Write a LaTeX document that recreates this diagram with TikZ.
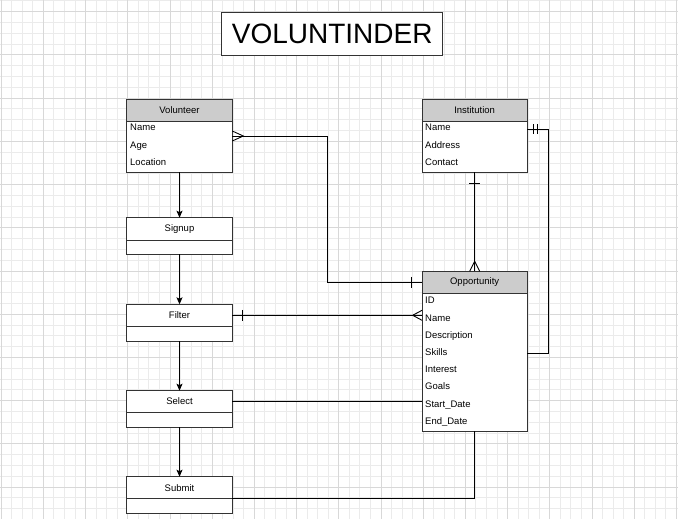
\documentclass[tikz,border=0pt]{standalone}
\usepackage{fontspec}
\setmainfont{Liberation Sans}
\usetikzlibrary{arrows.meta,calc}
\definecolor{hdrgray}{HTML}{CCCCCC}
\definecolor{gminor}{HTML}{EBEBEB}
\definecolor{gmajor}{HTML}{D8D8D8}
\definecolor{linec}{HTML}{333333}
\begin{document}
\begin{tikzpicture}[x=1pt,y=-1pt,
  box/.style={draw=linec, line width=0.9pt, fill=white, inner sep=0pt, outer sep=0pt, anchor=north west, minimum width=105.6pt, font=\fontsize{9.5}{11}\selectfont},
  hdr/.style={box, fill=hdrgray},
  rowtext/.style={anchor=west, inner sep=0pt, text height=6.8pt, text depth=0pt, font=\fontsize{9.5}{11}\selectfont},
  conn/.style={draw=black, line width=0.9pt},
  arr/.style={conn, -{Stealth[length=7pt,width=6pt,inset=1.5pt]}},
  ermark/.style={draw=black, line width=0.9pt}
]
\useasboundingbox (0,0) rectangle (678,519);
% grid
\begin{scope}
\clip (0,0) rectangle (678,519);
\fill[white] (0,0) rectangle (678,519);
\foreach \i in {0,...,64} \draw[gminor, line width=0.8pt] ({1.1+10.55*\i},0) -- ++(0,519);
\foreach \i in {0,...,48} \draw[gminor, line width=0.8pt] (0,{0.9+10.8*\i}) -- ++(678,0);
\foreach \i in {-1,...,15} \draw[gmajor, line width=0.8pt] ({43.3+42.2*\i},0) -- ++(0,519);
\foreach \i in {0,...,12} \draw[gmajor, line width=0.8pt] (0,{11.7+43.2*\i}) -- ++(678,0);
\end{scope}

% title
\node[draw=linec, line width=0.9pt, fill=white, minimum width=221pt, minimum height=43.4pt, inner sep=0pt, font=\fontsize{28}{32}\selectfont] (title) at (332.2,34) {VOLUNTINDER};

% Volunteer
\node[hdr, minimum height=22pt] (volh) at (126.7,99) {Volunteer};
\node[box, minimum height=51.3pt] (volb) at (126.7,121) {};
\node[rowtext] (v1) at (130,127.3) {Name};
\node[rowtext] (v2) at (130,144.7) {Age};
\node[rowtext] (v3) at (130,162) {Location};

% Institution
\node[hdr, minimum width=105.3pt, minimum height=22pt] (insth) at (422,99) {Institution};
\node[box, minimum width=105.3pt, minimum height=51.3pt] (instb) at (422,121) {};
\node[rowtext] (i1) at (425,127.3) {Name};
\node[rowtext] (i2) at (425,144.7) {Address};
\node[rowtext] (i3) at (425,162) {Contact};

% Opportunity
\node[hdr, minimum width=105.3pt, minimum height=22pt] (opph) at (422,271.3) {Opportunity};
\node[box, minimum width=105.3pt, minimum height=138pt] (oppb) at (422,293.3) {};
\node[rowtext] (o1) at (425,300.3) {ID};
\node[rowtext] (o2) at (425,317.7) {Name};
\node[rowtext] (o3) at (425,335.3) {Description};
\node[rowtext] (o4) at (425,352) {Skills};
\node[rowtext] (o5) at (425,368.7) {Interest};
\node[rowtext] (o6) at (425,386.3) {Goals};
\node[rowtext] (o7) at (425,403.7) {Start\_Date};
\node[rowtext] (o8) at (425,421.3) {End\_Date};

% process boxes
\node[box, minimum height=22.3pt] (sig) at (126.7,217.7) {Signup};
\node[box, minimum height=14.3pt] (sigl) at (126.7,240) {};
\node[box, minimum height=22pt] (fil) at (126.7,304.3) {Filter};
\node[box, minimum height=14.7pt] (fill2) at (126.7,326.3) {};
\node[box, minimum height=21.6pt] (sel) at (126.7,390.7) {Select};
\node[box, minimum height=15pt] (sell) at (126.7,412.3) {};
\node[box, minimum height=22pt] (sub) at (126.7,476.7) {Submit};
\node[box, minimum height=15pt] (subl) at (126.7,498.7) {};

% flow arrows
\draw[arr] (volb.south) -- (sig.north);
\draw[arr] (sigl.south) -- (fil.north);
\draw[arr] (fill2.south) -- (sel.north);
\draw[arr] (sell.south) -- (sub.north);

% Volunteer -> Opportunity
\coordinate (va) at ([yshift=-15pt]volb.north east);
\draw[conn] (va) -| (327.7,282.3) -- (opph.west);
\draw[ermark] ([yshift=5pt]va) -- ([xshift=11pt]va) -- ([yshift=-5pt]va);
\draw[ermark] ([xshift=-10.3pt,yshift=5.5pt]opph.west) -- ([xshift=-10.3pt,yshift=-5.5pt]opph.west);

% Institution -> Opportunity
\draw[conn] (instb.south) -- (opph.north);
\draw[ermark] ([xshift=-5.5pt,yshift=-11pt]instb.south) -- ([xshift=5.5pt,yshift=-11pt]instb.south);
\draw[ermark] ([xshift=-5pt]opph.north) -- ([yshift=10pt]opph.north) -- ([xshift=5pt]opph.north);

% Institution right -> Opportunity right
\coordinate (ib) at ([yshift=-8pt]instb.north east);
\coordinate (oc) at ([yshift=-59.7pt]oppb.north east);
\draw[conn] (ib) -| (548.7,353) -- (oc);
\draw[ermark] ([xshift=6pt,yshift=5pt]ib) -- ([xshift=6pt,yshift=-5pt]ib);
\draw[ermark] ([xshift=10.4pt,yshift=5pt]ib) -- ([xshift=10.4pt,yshift=-5pt]ib);

% Filter -> Opportunity
\coordinate (fo) at (fil.east -| oppb.west);
\draw[conn] (fil.east) -- (fo);
\draw[ermark] ([xshift=10.4pt,yshift=5.5pt]fil.east) -- ([xshift=10.4pt,yshift=-5.5pt]fil.east);
\draw[ermark] ([yshift=5pt]fo) -- ([xshift=-9.3pt]fo) -- ([yshift=-5pt]fo);

% Select -> Opportunity
\draw[conn] (sel.east) -- (sel.east -| oppb.west);

% Submit -> Opportunity
\draw[conn] (subl.north east) -| (oppb.south);
\end{tikzpicture}
\end{document}
